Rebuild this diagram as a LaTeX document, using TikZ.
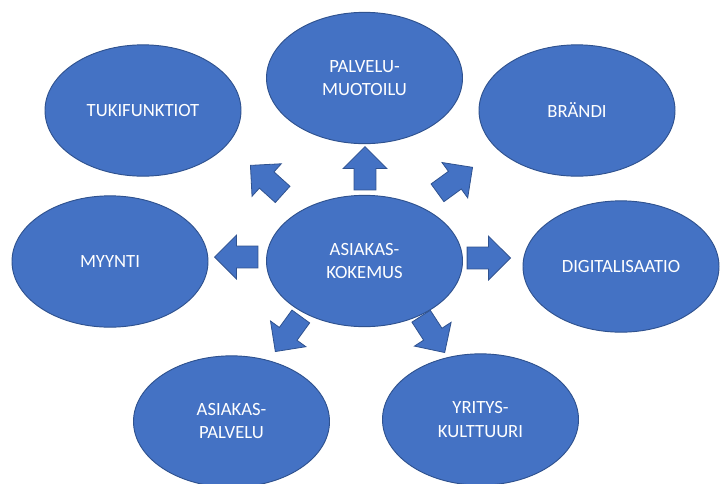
\documentclass[tikz,border=0pt]{standalone}
\usepackage{fontspec}
\setmainfont{Carlito}
\usepackage{tikz}
\usetikzlibrary{shapes.geometric}
\usetikzlibrary{shapes.arrows}
\definecolor{themeColor}{RGB}{68,114,196}
\definecolor{themeBorder}{RGB}{47,82,143}

\begin{document}
\begin{tikzpicture}[x=0.75pt,y=-0.75pt]

          \tikzstyle{themeNode} = [ellipse, fill=themeColor, draw=themeBorder, line width=0.7pt, text=white, align=center, inner sep=0pt, minimum width=147pt, minimum height=98.5pt, font=\fontsize{14}{17.25}\selectfont];
          \tikzstyle{blockArrow} = [single arrow, anchor=tip, fill=themeColor, draw=themeBorder, line width=0.6pt, inner xsep=0pt, inner ysep=7.9pt, minimum width=32.25pt, minimum height=32.5pt, single arrow head extend=8.2pt];

          \useasboundingbox (0,0) rectangle (720,483);

          \node[themeNode] (kokemus) at (364.5,261) {ASIAKAS-\\KOKEMUS};
          \node[themeNode] (tuki) at (143,110.5) {TUKIFUNKTIOT};
          \node[themeNode] (muotoilu) at (364.5,78) {PALVELU-\\MUOTOILU};
          \node[themeNode] (brandi) at (577,110.5) {BRÄNDI};
          \node[themeNode] (myynti) at (110,261.5) {MYYNTI};
          \node[themeNode] (digi) at (621,266.5) {DIGITALISAATIO};
          \node[themeNode] (palvelu) at (231.5,421.5) {ASIAKAS-\\PALVELU};
          \node[themeNode] (kulttuuri) at (480.5,419.5) {YRITYS-\\KULTTUURI};

          % arrows placed by their tips
          \node[blockArrow, rotate=90] (toMuotoilu) at (365,146) {};
          \node[blockArrow, rotate=138] (toTuki) at (250,165) {};
          \node[blockArrow, rotate=36] (toBrandi) at (473,167) {};
          \node[blockArrow, rotate=180] (toMyynti) at (214,257) {};
          \node[blockArrow, rotate=0] (toDigi) at (511,258) {};
          \node[blockArrow, rotate=234] (toPalvelu) at (275,352) {};
          \node[blockArrow, rotate=303] (toKulttuuri) at (445,353) {};
        \end{tikzpicture}
\end{document}
